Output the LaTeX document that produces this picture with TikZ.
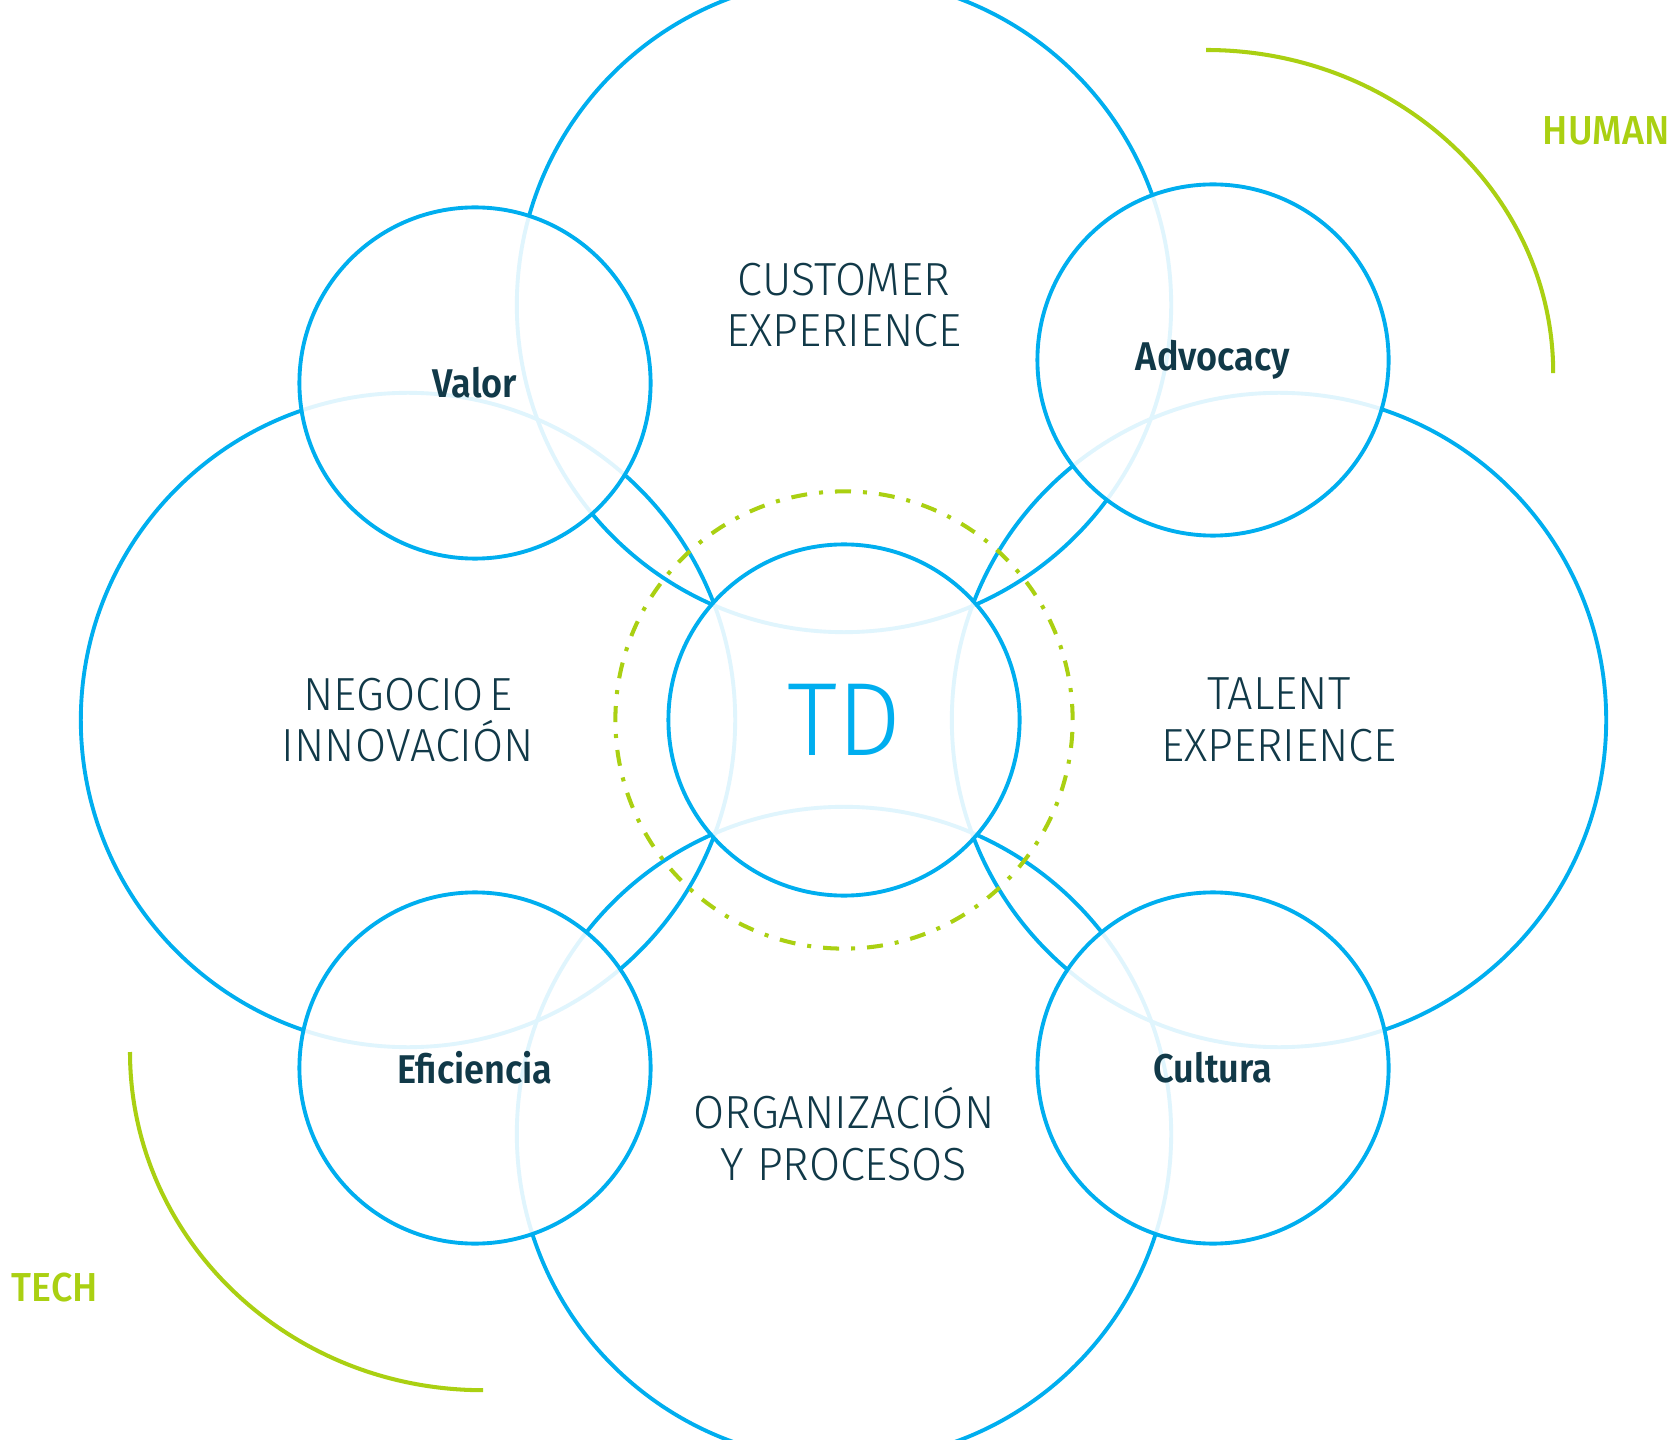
\documentclass[tikz,border=0pt]{standalone}
\usepackage{fontspec}
\setmainfont{Fira Sans}
\IfFontExistsTF{Fira Sans Book}
  {\newfontfamily\lightfont{Fira Sans Book}[FakeStretch=0.95]}
  {\newfontfamily\lightfont{Fira Sans Light}[FakeStretch=0.97]}
\newfontfamily\semifont{Fira Sans SemiBold}[FakeStretch=0.9]
\IfFontExistsTF{Fira Sans Medium}
  {\newfontfamily\plainfont{Fira Sans Medium}[FakeStretch=0.93]}
  {\newfontfamily\plainfont{Fira Sans}[FakeStretch=0.95]}

\definecolor{tdblue}{RGB}{0,174,239}
\definecolor{tdgreen}{RGB}{170,208,18}
\definecolor{tdnavy}{RGB}{17,57,72}

\tikzstyle{bigc} = [circle,draw=tdblue,line width=1.1pt,minimum size=6.54cm,inner sep=0pt,align=center,text=tdnavy,font=\lightfont\fontsize{13.2}{14.6}\selectfont]
\tikzstyle{smallc} = [circle,draw=tdblue,line width=1.1pt,minimum size=3.51cm,inner sep=0pt,fill=white,fill opacity=0.88,text opacity=1,text=tdnavy,font=\semifont\fontsize{11.4}{13}\selectfont]
\tikzstyle{ring} = [circle,draw=tdgreen,line width=1.15pt,minimum size=4.57cm,inner sep=0pt,dash pattern=on 0.16cm off 0.12cm on 0.04cm off 0.12cm]
\tikzstyle{garc} = [draw=tdgreen,line width=1.15pt]
\tikzstyle{glabel} = [text=tdgreen,font=\plainfont\fontsize{11.5}{13}\selectfont,inner sep=0pt]

\begin{document}
\begin{tikzpicture}[x=0.01cm,y=-0.01cm]
	\useasboundingbox (0,0) rectangle (1676,1440);

	% big circles
	\node[bigc] (cust) at (844,305) {CUSTOMER\\EXPERIENCE};
	\node[bigc] (neg) at (408,720) {NEGOCIO\kern0.12em E\\INNOVACIÓN};
	\node[bigc] (tal) at (1279,720) {TALENT\\EXPERIENCE};
	\node[bigc] (org) at (844,1134) {ORGANIZACIÓN\\Y PROCESOS};

	% centre and small circles
	\node[smallc,text=tdblue,font=\lightfont\fontsize{29.6}{30}\selectfont] (td) at (844,720) {TD};
	\node[smallc] (valor) at (475,383) {Valor};
	\node[smallc] (advo) at (1213,360) {Advocacy};
	\node[smallc] (efi) at (475,1068) {Eficiencia};
	\node[smallc] (cult) at (1213,1068) {Cultura};

	\node[ring] (ring) at (844,720) {};

	% human / tech
	\coordinate (hstart) at (1206,50);
	\coordinate (tstart) at (130,1052);
	\draw[garc] (hstart) arc[start angle=90,end angle=0,x radius=3.47cm,y radius=3.23cm];
	\draw[garc] (tstart) arc[start angle=180,end angle=270,x radius=3.53cm,y radius=3.38cm];
	\node[glabel] (human) at (1606,131) {HUMAN};
	\node[glabel] (tech) at (55,1288) {TECH};
\end{tikzpicture}
\end{document}
